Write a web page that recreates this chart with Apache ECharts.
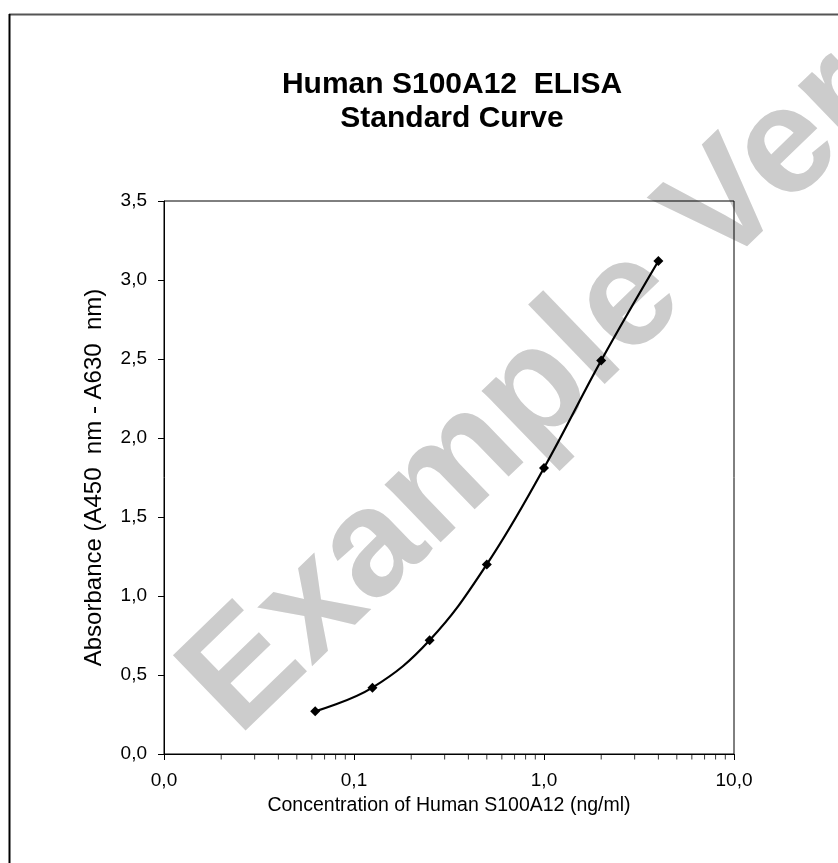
<!DOCTYPE html>
<html>
<head>
<meta charset="utf-8">
<script src="https://cdn.jsdelivr.net/npm/echarts@6/dist/echarts.min.js"></script>
<style>
  html, body { margin: 0; padding: 0; background: #fff; }
  #graph { width: 838px; height: 863px; }
</style>
</head>
<body>
<div id="graph"></div>
<script>
// standard concentrations (ng/ml) and absorbance readings
const concentrations = [0.0625, 0.125, 0.25, 0.5, 1, 2, 4]
const absorbance = [0.27, 0.42, 0.72, 1.20, 1.81, 2.49, 3.12]
// minor log ticks on the x axis
const minorTicks = [0.02, 0.03, 0.04, 0.05, 0.06, 0.07, 0.08, 0.09,
  0.2, 0.3, 0.4, 0.5, 0.6, 0.7, 0.8, 0.9,
  2, 3, 4, 5, 6, 7, 8, 9]

const font = "'Liberation Sans', Arial, sans-serif"
const comma = (v) => v.toFixed(1).replace('.', ',')

var myChart = echarts.init(document.getElementById('graph'))
myChart.setOption({
  animation: false,
  title: {
    text: 'Human S100A12  ELISA\nStandard Curve',
    left: 447,
    top: 63,
    textAlign: 'center',
    textStyle: { fontFamily: font, fontSize: 30, fontWeight: 'bold', color: '#000', lineHeight: 34 }
  },
  graphic: [
    {
      type: 'text',
      x: 262, y: 762,
      rotation: 44 * Math.PI / 180,
      z: -10,
      style: {
        text: 'Example Version',
        fill: '#cccccc',
        font: 'bold 152px Liberation Sans, Arial, sans-serif',
        textAlign: 'left',
        textVerticalAlign: 'bottom'
      }
    },
    { type: 'line', shape: { x1: 9, y1: 14.5, x2: 838, y2: 14.5 }, style: { stroke: '#555', lineWidth: 2 } },
    { type: 'line', shape: { x1: 9.5, y1: 14, x2: 9.5, y2: 863 }, style: { stroke: '#000', lineWidth: 2 } }
  ],
  grid: {
    left: 164, right: 104, top: 201, bottom: 109,
    show: true, borderColor: '#000', borderWidth: 1, backgroundColor: 'transparent'
  },
  xAxis: {
    type: 'log',
    logBase: 10,
    min: 0.01,
    max: 10,
    name: 'Concentration of Human S100A12 (ng/ml)',
    nameLocation: 'middle',
    nameGap: 42,
    nameTextStyle: { fontFamily: font, fontSize: 19.5, color: '#000' },
    axisLine: { lineStyle: { color: '#000', width: 1 } },
    axisTick: { inside: false, length: 6, lineStyle: { color: '#000' } },
    splitLine: { show: false },
    axisLabel: { margin: 17, fontFamily: font, fontSize: 19, color: '#000', formatter: comma }
  },
  yAxis: {
    type: 'value',
    min: 0,
    max: 3.5,
    interval: 0.5,
    name: 'Absorbance (A450  nm - A630  nm)',
    nameLocation: 'middle',
    nameGap: 58,
    nameTextStyle: { fontFamily: font, fontSize: 24, color: '#000' },
    axisLine: { show: true, lineStyle: { color: '#000', width: 1 } },
    axisTick: { show: true, inside: false, length: 6, lineStyle: { color: '#000' } },
    splitLine: { show: false },
    axisLabel: { margin: 17, fontFamily: font, fontSize: 19, color: '#000', formatter: comma }
  },
  series: [
    {
      type: 'line',
      data: concentrations.map((c, i) => [c, absorbance[i]]),
      smooth: 0.4,
      symbol: 'diamond',
      symbolSize: 10,
      lineStyle: { color: '#000', width: 2.2 },
      itemStyle: { color: '#000' },
      z: 5
    },
    {
      type: 'scatter',
      data: minorTicks.map((t) => [t, 0]),
      symbol: 'rect',
      symbolSize: [1, 5],
      symbolOffset: [0, 3],
      itemStyle: { color: '#000' },
      clip: false,
      silent: true
    }
  ]
})
</script>
</body>
</html>
